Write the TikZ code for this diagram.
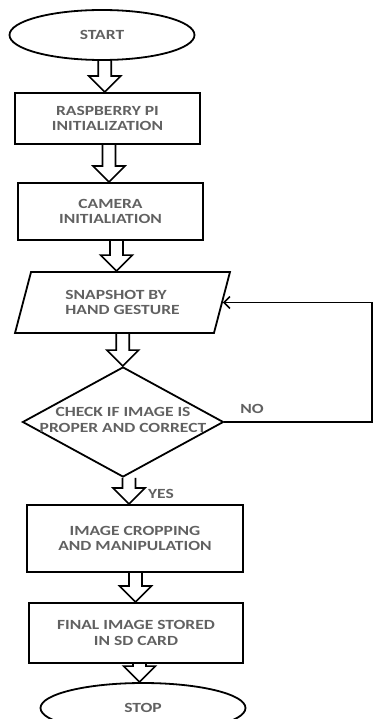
\documentclass[tikz,border=0pt]{standalone}
\usepackage{fontspec}
\setmainfont{Carlito}[FakeStretch=1.25]
\usetikzlibrary{shapes.geometric,arrows.meta,calc}

% hollow block arrow from the bottom of one node to the top of the next
\newcommand{\fatarrow}[2]{%
\draw[fat] let \p1=(#1.south), \p2=(#2.north), \p3=($(#1.south)!0.5!(#2.north)$) in
 (\x3-6.5pt,\y1) -- (\x3-6.5pt,\y2+16pt) -- (\x3-16pt,\y2+16pt) -- (\x3,\y2)
 -- (\x3+16pt,\y2+16pt) -- (\x3+6.5pt,\y2+16pt) -- (\x3+6.5pt,\y1);}

\begin{document}
\begin{tikzpicture}[x=1pt,y=-1pt,
 font=\bfseries\fontsize{14}{15.5}\selectfont, text=black!62,
 terminal/.style={draw=black,ellipse,line width=1.8pt,inner sep=0pt},
 box/.style={draw=black,rectangle,line width=2pt,align=center,inner sep=0pt},
 io/.style={draw=black,trapezium,trapezium left angle=68,trapezium right angle=112,
   trapezium stretches=true,line width=1.8pt,align=left,inner sep=0pt},
 decision/.style={draw=black,diamond,line width=1.8pt,inner sep=0pt,aspect=1.83},
 fat/.style={draw=black,line width=1.6pt,line join=miter},
 loopline/.style={draw=black,line width=1.5pt}]
\useasboundingbox (0,0) rectangle (374,719);

\node[terminal,minimum width=185pt,minimum height=50pt] (start) at (102,35) {START};
\node[box,minimum width=185pt,minimum height=51pt] (rpi) at (107.5,118.5) {RASPBERRY PI\\INITIALIZATION};
\node[box,minimum width=185pt,minimum height=57pt] (cam) at (110.5,211.5) {CAMERA\\INITIALIATION};
\node[io,minimum width=215pt,minimum height=61pt] (snap) at (122.5,302.5) {SNAPSHOT BY\\HAND GESTURE};
\node[decision,minimum width=201pt,minimum height=110pt,
 label={[align=center,yshift=2pt]center:{CHECK IF IMAGE IS\\PROPER AND CORRECT}}] (check) at (123,422) {};
\node[box,minimum width=216pt,minimum height=67pt] (crop) at (135,538.5) {IMAGE CROPPING\\AND MANIPULATION};
\node[box,minimum width=214pt,minimum height=60pt] (final) at (136,633) {FINAL IMAGE STORED\\IN SD CARD};
\node[terminal,minimum width=205pt,minimum height=50pt] (stop) at (143,708) {STOP};

\fatarrow{start}{rpi}
\fatarrow{rpi}{cam}
\fatarrow{cam}{snap}
\fatarrow{snap}{check}
\fatarrow{check}{crop}
\fatarrow{crop}{final}
\fatarrow{final}{stop}

% NO branch back to the snapshot
\coordinate (edge) at (372,0);
\draw[loopline,-{Straight Barb[length=6pt,width=12pt]}] (check.east) -- (check.east -| edge) |- (snap.right side);
\node (no) at (252,409) {NO};
\node (yes) at (161,494) {YES};
\end{tikzpicture}
\end{document}
